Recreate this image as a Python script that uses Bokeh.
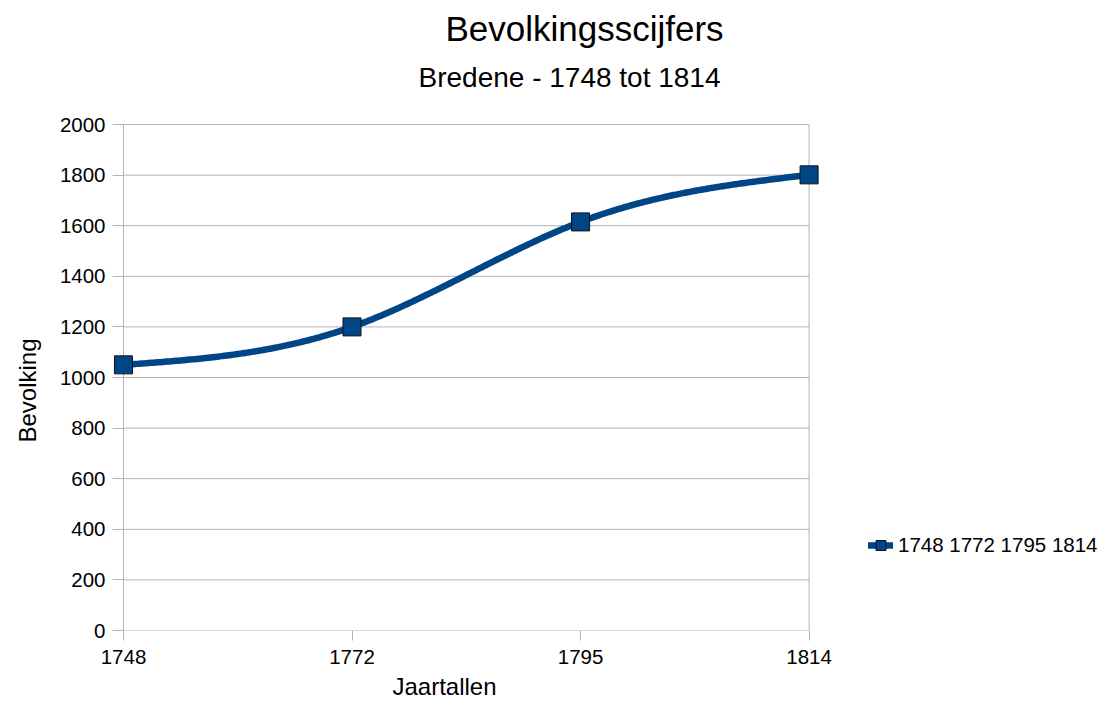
import numpy as np
from bokeh.plotting import figure
from bokeh.models import (Legend, LegendItem, FixedTicker, Range1d, Title, Label)
from bokeh.embed import file_html
from bokeh.resources import INLINE

years = ["1748", "1772", "1795", "1814"]
population = [1050, 1200, 1615, 1801]
y_ticks = list(range(0, 2001, 200))
title_text = "Bevolkingsscijfers"
subtitle_text = "Bredene - 1748 tot 1814"
x_title = "Jaartallen"
y_title = "Bevolking"
legend_label = "1748 1772 1795 1814"

FONT = "Liberation Sans"
BLUE = "#004586"
GRID = "#b3b3b3"

xs = np.arange(len(years), dtype=float)
ys = np.array(population, dtype=float)


def natural_spline(x, y, n=300):
    m = len(x)
    h = np.diff(x)
    A = np.zeros((m, m))
    b = np.zeros(m)
    A[0, 0] = 1
    A[-1, -1] = 1
    for i in range(1, m - 1):
        A[i, i - 1] = h[i - 1]
        A[i, i] = 2 * (h[i - 1] + h[i])
        A[i, i + 1] = h[i]
        b[i] = 6 * ((y[i + 1] - y[i]) / h[i] - (y[i] - y[i - 1]) / h[i - 1])
    M = np.linalg.solve(A, b)
    xx = np.linspace(x[0], x[-1], n)
    yy = np.empty_like(xx)
    for k, t in enumerate(xx):
        i = min(np.searchsorted(x, t, side="right") - 1, m - 2)
        hi = h[i]
        a = (x[i + 1] - t) / hi
        c = (t - x[i]) / hi
        yy[k] = (a * y[i] + c * y[i + 1]
                 + ((a ** 3 - a) * M[i] + (c ** 3 - c) * M[i + 1]) * hi * hi / 6)
    return xx, yy


sx, sy = natural_spline(xs, ys)

# layout (canvas pixels)
W, H = 1098, 706
LEFT, BOTTOM = 110, 76
AX_X0 = 121          # pixel of first category
PX_PER_CAT = 229.0
PLOT_TOP = 124       # pixel of the top gridline
frame_h = H - BOTTOM
px_per_unit = (frame_h - PLOT_TOP) / (y_ticks[-1] - y_ticks[0])

x_start = xs[0] - (AX_X0 - LEFT) / PX_PER_CAT
x_end = xs[0] + (W - AX_X0) / PX_PER_CAT
y_end = y_ticks[0] + frame_h / px_per_unit

p = figure(width=W, height=H, output_backend="svg", toolbar_location=None,
           x_range=Range1d(x_start, x_end),
           y_range=Range1d(y_ticks[0], y_end),
           min_border_left=LEFT, min_border_right=0,
           min_border_top=0, min_border_bottom=BOTTOM)
p.outline_line_color = None
p.background_fill_color = "white"
p.border_fill_color = "white"
p.xgrid.visible = False
p.ygrid.visible = False

for ax in (p.xaxis[0], p.yaxis[0]):
    ax.axis_line_color = None
    ax.major_tick_line_color = GRID
    ax.minor_tick_line_color = None
    ax.major_label_text_font = FONT
    ax.major_label_text_font_size = "20.5px"
    ax.major_label_text_color = "#000000"

p.xaxis[0].ticker = FixedTicker(ticks=list(xs))
p.xaxis[0].major_label_overrides = {int(i): y for i, y in enumerate(years)}
p.xaxis[0].major_tick_in = 0
p.xaxis[0].major_tick_out = 10
p.xaxis[0].major_label_standoff = 9

p.yaxis[0].ticker = FixedTicker(ticks=y_ticks)
p.yaxis[0].major_tick_in = AX_X0 - LEFT
p.yaxis[0].major_tick_out = 0
p.yaxis[0].major_label_standoff = 7

# grid lines and plot-area borders over the category extent
p.segment(x0=[xs[0]] * len(y_ticks), x1=[xs[-1]] * len(y_ticks),
          y0=y_ticks, y1=y_ticks, line_color=GRID, line_width=1)
p.segment(x0=[xs[0], xs[-1]], x1=[xs[0], xs[-1]],
          y0=[y_ticks[0]] * 2, y1=[y_ticks[-1]] * 2,
          line_color=GRID, line_width=1)

line = p.line(sx, sy, line_color=BLUE, line_width=6.5, line_join="round",
              line_cap="round")
pts = p.scatter(xs, ys, marker="square", size=18, fill_color=BLUE,
                line_color="#111111", line_width=1)

legend = Legend(items=[LegendItem(label=legend_label, renderers=[line, pts])],
                location=(866 - LEFT, frame_h - 545 - 15), orientation="vertical",
                glyph_width=25, glyph_height=30, label_standoff=5,
                padding=0, margin=0, border_line_color=None,
                background_fill_alpha=0, label_text_font=FONT,
                label_text_font_size="20.5px", label_text_color="#000000")
p.add_layout(legend)


def lab(text, cx, baseline, size):
    p.add_layout(Label(text=text, x=cx - LEFT, y=frame_h - baseline,
                       x_units="screen", y_units="screen",
                       text_font=FONT, text_font_size=size, text_color="#000000",
                       text_align="center", text_baseline="alphabetic"))


lab(title_text, 582, 28, "35px")
lab(subtitle_text, 567, 77, "28px")

p.add_layout(Title(text=x_title, text_font=FONT, text_font_size="24px",
                   text_font_style="normal", text_color="#000000",
                   align="left", offset=280, standoff=8), "below")
p.add_layout(Title(text=y_title, text_font=FONT, text_font_size="24px",
                   text_font_style="normal", text_color="#000000",
                   align="left", offset=188, standoff=27,
                   vertical_align="top"), "left")

open("out.html", "w").write(file_html(p, INLINE))
